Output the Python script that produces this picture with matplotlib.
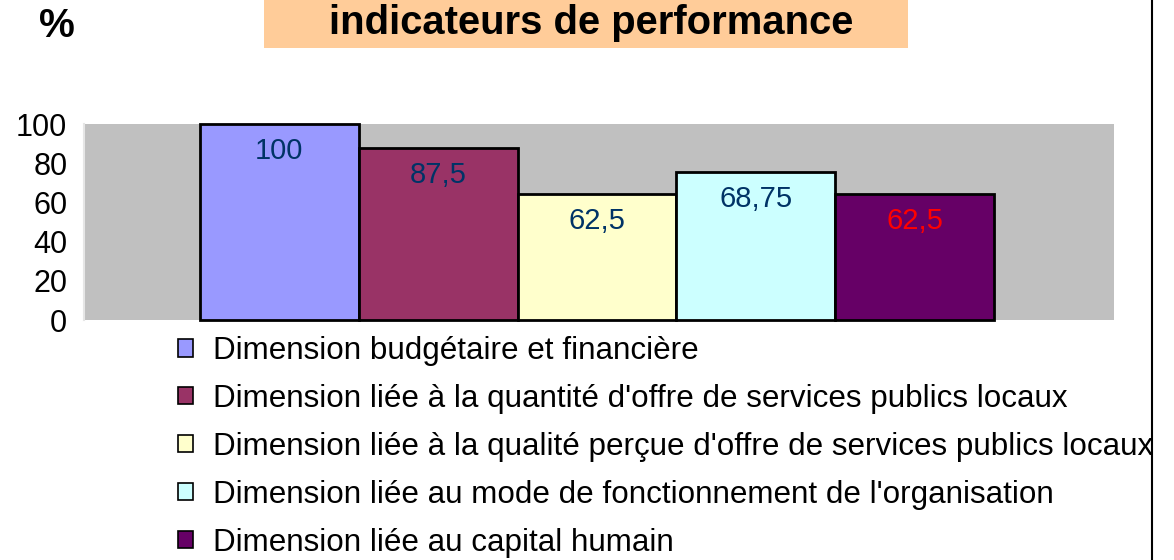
import matplotlib
matplotlib.use("Agg")
from matplotlib import pyplot as plt
from matplotlib.patches import Patch, Rectangle
from matplotlib.lines import Line2D

plt.rcParams['font.family'] = ['Liberation Sans', 'DejaVu Sans']

# data
dimensions = [
    "Dimension budgétaire et financière",
    "Dimension liée à la quantité d'offre de services publics locaux",
    "Dimension liée à la qualité perçue d'offre de services publics locaux",
    "Dimension liée au mode de fonctionnement de l'organisation",
    "Dimension liée au capital humain",
]
heights = [100, 87.8, 64.4, 75.5, 64.4]   # bar heights as drawn
value_labels = ["100", "87,5", "62,5", "68,75", "62,5"]
bar_colors = ["#9999FF", "#993366", "#FFFFCC", "#CCFFFF", "#660066"]
label_colors = ["#003366", "#003366", "#003366", "#003366", "#FF0000"]
yticks = [0, 20, 40, 60, 80, 100]

fig = plt.figure(figsize=(11.74, 5.6), dpi=100)
ax = fig.add_axes([84 / 1174, 1 - 320 / 560, 1030 / 1174, 196 / 560])
ax.set_facecolor("#C0C0C0")

x = list(range(len(heights)))
bars = ax.bar(x, heights, width=1.0, color=bar_colors, edgecolor="black",
              linewidth=2, clip_on=False, zorder=3)
for xi, h, lab, c in zip(x, heights, value_labels, label_colors):
    ax.annotate(lab, (xi, h), xytext=(0, -19.5), textcoords="offset points",
                ha="center", va="center", fontsize=21, color=c, zorder=4)

ax.set_xlim(-1.23, 5.256)
ax.set_ylim(0, 100)
ax.set_xticks([])
ax.set_yticks(yticks)
ax.set_yticklabels([str(t) for t in yticks])
ax.tick_params(axis="y", length=0, pad=12, labelsize=22)
for s in ["top", "right", "bottom"]:
    ax.spines[s].set_visible(False)
ax.spines["left"].set_color("#E6E6E6")
ax.spines["left"].set_linewidth(1.5)

# title box (top line cut off in the original)
fig.patches.append(Rectangle((264 / 1174, 1 - 48 / 560), 644 / 1174, 60 / 560,
                             transform=fig.transFigure, facecolor="#FFCC99",
                             edgecolor="none", zorder=0))
fig.text(591 / 1174, 1 - 23 / 560, "indicateurs de performance", ha="center",
         va="center", fontsize=28.8, fontweight="bold")
fig.text(57 / 1174, 1 - 26 / 560, "%", ha="center", va="center",
         fontsize=29, fontweight="bold")

# right frame line
fig.add_artist(Line2D([1152 / 1174, 1152 / 1174], [0, 1], transform=fig.transFigure,
                      color="black", linewidth=1.5))

handles = [Patch(facecolor=c, edgecolor="black", linewidth=1.2) for c in bar_colors]
fig.legend(handles, dimensions, loc="upper left",
           bbox_to_anchor=(178 / 1174, 1 - 336 / 560), frameon=False,
           fontsize=22.6, handlelength=0.48, handleheight=0.48,
           handletextpad=0.64, labelspacing=0.57, borderaxespad=0, borderpad=0)

fig.savefig("out.png", dpi=100)
